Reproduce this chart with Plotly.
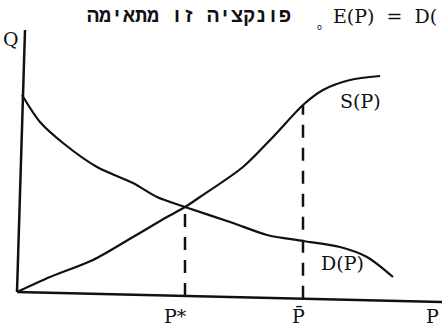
import plotly.graph_objects as go

# Demand curve D(P): price vs. quantity
demand_price = [5, 23, 46, 80, 116, 140, 168, 216, 250, 286, 323, 350, 376]
demand_qty = [197, 170, 149, 125, 109, 95, 85, 69, 57, 51, 45, 35, 15]

# Supply curve S(P)
supply_price = [0, 33, 76, 116, 150, 168, 183, 226, 256, 286, 306, 333, 363]
supply_qty = [0, 15, 32, 55, 75, 85, 95, 125, 155, 187, 202, 212, 216]

# Marked prices: equilibrium P* and the upper price P-bar
marked_prices = [168, 286]
marked_qty = [85, 187]
marked_labels = ["P*", "P\u0304"]

# Axis extents (hand-drawn axes lean slightly)
x_axis_end = [425, -10]
y_axis_end = [8, 262]

ink = "#111111"
label_font = dict(family="DejaVu Serif", size=19, color=ink)
hebrew_font = dict(family="Liberation Mono", size=20, color=ink)
formula_font = dict(family="DejaVu Serif", size=19, color=ink)

fig = go.Figure()

fig.add_trace(go.Scatter(
    x=demand_price, y=demand_qty, mode="lines",
    line=dict(color=ink, width=2.2, shape="spline", smoothing=0.8),
    hoverinfo="skip", showlegend=False))
fig.add_trace(go.Scatter(
    x=supply_price, y=supply_qty, mode="lines",
    line=dict(color=ink, width=2.2, shape="spline", smoothing=0.8),
    hoverinfo="skip", showlegend=False))

# Dashed drop lines from the curves to the price axis
for p, q in zip(marked_prices, marked_qty):
    base = x_axis_end[1] * p / x_axis_end[0]
    fig.add_trace(go.Scatter(
        x=[p, p], y=[base, q], mode="lines",
        line=dict(color=ink, width=2.5, dash="13px,10px"),
        hoverinfo="skip", showlegend=False))

# Axes
fig.add_shape(type="line", x0=0, y0=0, x1=x_axis_end[0], y1=x_axis_end[1],
              line=dict(color=ink, width=2.5))
fig.add_shape(type="line", x0=0, y0=0, x1=y_axis_end[0], y1=y_axis_end[1],
              line=dict(color=ink, width=2.5))

annotations = [
    dict(x=-6, y=253, text="Q"),
    dict(x=415, y=-24, text="P"),
    dict(x=343, y=191, text="S(P)"),
    dict(x=325, y=29, text="D(P)"),
]
for p, lab in zip(marked_prices, marked_labels):
    annotations.append(dict(x=p - 10 if lab == "P*" else p - 5, y=-24, text=lab))
for a in annotations:
    fig.add_annotation(x=a["x"], y=a["y"], text=a["text"], showarrow=False,
                       font=label_font, xanchor="center", yanchor="middle")

# Running text line above the chart
nb = "\u00a0"
fig.add_annotation(x=276, y=276, text="<b>פונקציה זו מתאימה</b>", showarrow=False,
                   font=hebrew_font, xanchor="right", yanchor="middle")
fig.add_annotation(x=302, y=265, text="o", showarrow=False,
                   font=dict(family="DejaVu Sans", size=8, color=ink),
                   xanchor="center", yanchor="middle")
fig.add_annotation(x=314, y=276, text=f"E(P){nb}{nb}={nb}{nb}D(", showarrow=False,
                   font=formula_font, xanchor="left", yanchor="middle")

fig.update_layout(
    width=442, height=334,
    margin=dict(l=0, r=0, t=0, b=0),
    paper_bgcolor="white", plot_bgcolor="white",
    xaxis=dict(range=[-17, 425], visible=False, fixedrange=True),
    yaxis=dict(range=[-42, 292], visible=False, fixedrange=True),
)

fig.write_html("out.html")
